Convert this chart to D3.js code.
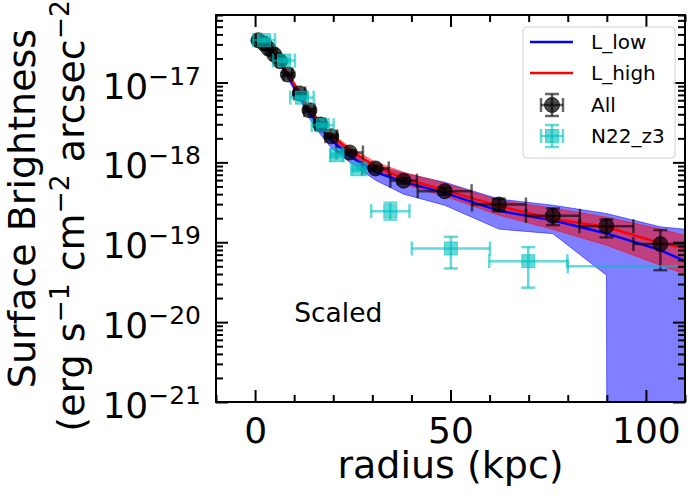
<!DOCTYPE html>
<html><head><meta charset="utf-8">
<script src="https://cdn.jsdelivr.net/npm/d3@7"></script>
<style>
body{margin:0;background:#fff}
svg{display:block}
text{font-family:"DejaVu Sans",sans-serif;fill:#000}
</style>
</head><body>
<svg id="c" width="700" height="500"></svg>
<script>
// ---------------- data ----------------
const xDomain = [-10, 110];
const yDomain = [1e-21, 7e-17];
const xTickVals = [0, 50, 100];
const yTickVals = [1e-21, 1e-20, 1e-19, 1e-18, 1e-17];
const yTickExps = ["−21", "−20", "−19", "−18", "−17"];

// "All" stacked profile
const allR    = [0.85, 2.3, 3.4, 4.9, 6.4, 8.4, 11.4, 13.9, 16.7, 19.5, 24.2, 30.8, 38.0, 48.5, 62.4, 76.2, 89.9, 103.7];
const allV    = [3.38e-17, 3.07e-17, 2.66e-17, 2.24e-17, 1.85e-17, 1.26e-17, 7.3e-18, 4.5e-18, 2.98e-18, 2.12e-18, 1.33e-18, 8.4e-19, 5.9e-19, 4.36e-19, 2.97e-19, 2.14e-19, 1.59e-19, 9.5e-20];
const allXErr = [0.7, 0.7, 0.7, 0.7, 0.8, 1.1, 1.4, 1.3, 1.3, 1.5, 3.4, 3.4, 3.4, 6.9, 6.9, 6.9, 6.9, 6.9];
const allYLo  = [3.25e-17, 2.95e-17, 2.56e-17, 2.15e-17, 1.77e-17, 1.2e-17, 6.95e-18, 4.28e-18, 2.83e-18, 2.01e-18, 1.25e-18, 7.8e-19, 5.45e-19, 3.95e-19, 2.45e-19, 1.64e-19, 1.15e-19, 4.47e-20];
const allYHi  = [3.52e-17, 3.19e-17, 2.77e-17, 2.33e-17, 1.93e-17, 1.32e-17, 7.65e-18, 4.72e-18, 3.13e-18, 2.23e-18, 1.41e-18, 9.0e-19, 6.35e-19, 4.8e-19, 3.5e-19, 2.65e-19, 1.93e-19, 1.42e-19];

// N22_z3 profile
const n22R    = [2.3, 7.4, 12.0, 17.3, 20.9, 26.5, 34.6, 50.1, 69.9, 120];
const n22V    = [3.39e-17, 1.88e-17, 6.46e-18, 2.92e-18, 1.23e-18, 8.2e-19, 2.45e-19, 8.35e-20, 5.8e-20, 5.0e-20];
const n22XErr = [2.8, 2.8, 3.0, 2.8, 1.7, 1.9, 4.9, 10, 10, 40];
const n22YLo  = [3.22e-17, 1.79e-17, 6.14e-18, 2.77e-18, 1.17e-18, 7.8e-19, 1.92e-19, 4.7e-20, 2.7e-20, 3.5e-20];
const n22YHi  = [3.56e-17, 1.97e-17, 6.78e-18, 3.07e-18, 1.29e-18, 8.6e-19, 3.13e-19, 1.17e-19, 8.7e-20, 6.5e-20];

// model curves
const modelR  = [0.85, 2.3, 3.4, 4.9, 6.4, 8.4, 11.4, 13.9, 16.7, 19.5, 24.2, 30.8, 38.0, 48.5, 62.4, 76.2, 89.9, 103.7, 117.5];
const lowMid  = [3.38e-17, 3.06e-17, 2.62e-17, 2.19e-17, 1.77e-17, 1.20e-17, 6.93e-18, 4.13e-18, 2.68e-18, 1.90e-18, 1.20e-18, 7.54e-19, 5.70e-19, 4.15e-19, 2.47e-19, 1.89e-19, 1.29e-19, 7.96e-20, 3.99e-20];
const lowUp   = [3.58e-17, 3.24e-17, 2.78e-17, 2.33e-17, 1.88e-17, 1.27e-17, 7.35e-18, 4.44e-18, 2.88e-18, 2.04e-18, 1.38e-18, 9.23e-19, 7.33e-19, 5.65e-19, 3.47e-19, 2.91e-19, 2.29e-19, 1.56e-19, 1.34e-19];
const lowDn   = [3.19e-17, 2.89e-17, 2.47e-17, 2.04e-17, 1.65e-17, 1.10e-17, 6.18e-18, 3.57e-18, 2.25e-18, 1.51e-18, 1.006e-18, 5.99e-19, 4.0e-19, 2.91e-19, 1.46e-19, 1.28e-19, 3.87e-20, 0, 0];
const highMid = [3.38e-17, 3.08e-17, 2.66e-17, 2.24e-17, 1.85e-17, 1.27e-17, 7.45e-18, 4.63e-18, 3.10e-18, 2.19e-18, 1.42e-18, 8.96e-19, 6.29e-19, 4.49e-19, 2.83e-19, 1.95e-19, 1.55e-19, 9.75e-20, 7.2e-20];
const highUp  = [3.58e-17, 3.25e-17, 2.82e-17, 2.37e-17, 1.96e-17, 1.35e-17, 7.89e-18, 4.91e-18, 3.28e-18, 2.32e-18, 1.55e-18, 1.006e-18, 7.54e-19, 5.49e-19, 3.36e-19, 2.67e-19, 2.06e-19, 1.46e-19, 9.75e-20];
const highDn  = [3.19e-17, 2.90e-17, 2.52e-17, 2.11e-17, 1.74e-17, 1.20e-17, 6.93e-18, 4.31e-18, 2.84e-18, 1.98e-18, 1.27e-18, 7.76e-19, 5.33e-19, 3.78e-19, 2.18e-19, 1.45e-19, 9.2e-20, 5.17e-20, 2.9e-20];

const legendLabels = ["L_low", "L_high", "All", "N22_z3"];
const annotation = {text: "Scaled", r: 10, v: 1e-20};

// ---------------- drawing ----------------
const svg = d3.select("#c");
const L = 216, R = 685, T = 15, B = 402;
const x = d3.scaleLinear().domain(xDomain).range([L, R]);
const y = d3.scaleLog().domain(yDomain).range([B, T]);
const pos = v => Math.max(v, 1e-300);   // log-scale clipping of non-positive values

svg.append("defs").append("clipPath").attr("id", "clip")
  .append("rect").attr("x", L).attr("y", T).attr("width", R - L).attr("height", B - T);

const plot = svg.append("g").attr("clip-path", "url(#clip)");

function band(up, dn, color, op) {
  const area = d3.area()
    .x((d, i) => x(modelR[i]))
    .y0((d, i) => y(pos(dn[i])))
    .y1((d, i) => y(pos(up[i])));
  plot.append("path").datum(modelR).attr("d", area)
    .attr("fill", color).attr("fill-opacity", op)
    .attr("stroke", color).attr("stroke-opacity", op).attr("stroke-width", 1);
}
band(lowUp, lowDn, "#0000ff", 0.5);
band(highUp, highDn, "#ff0000", 0.5);

function curve(vals, color) {
  const line = d3.line().x((d, i) => x(modelR[i])).y((d, i) => y(pos(vals[i])));
  plot.append("path").datum(modelR).attr("d", line)
    .attr("fill", "none").attr("stroke", color).attr("stroke-width", 2.5);
}
curve(lowMid, "#0000ff");
curve(highMid, "#ff0000");

const CAP = 7;
function errorbars(rs, vs, xe, ylo, yhi, color, op, marker) {
  const g = plot.append("g").attr("stroke", color).attr("stroke-opacity", op).attr("stroke-width", 2.5);
  rs.forEach((r, i) => {
    const cx = x(r), cy = y(vs[i]);
    const x0 = x(r - xe[i]), x1 = x(r + xe[i]);
    const y0 = y(ylo[i]), y1 = y(yhi[i]);
    g.append("line").attr("x1", x0).attr("x2", x1).attr("y1", cy).attr("y2", cy);
    g.append("line").attr("x1", cx).attr("x2", cx).attr("y1", y0).attr("y2", y1);
    [x0, x1].forEach(xx => g.append("line").attr("x1", xx).attr("x2", xx).attr("y1", cy - CAP).attr("y2", cy + CAP));
    [y0, y1].forEach(yy => g.append("line").attr("x1", cx - CAP).attr("x2", cx + CAP).attr("y1", yy).attr("y2", yy));
  });
  const m = plot.append("g");
  rs.forEach((r, i) => marker(m, x(r), y(vs[i])));
}
function circleMarker(g, cx, cy) {
  g.append("circle").attr("cx", cx).attr("cy", cy).attr("r", 7.5)
    .attr("fill", "#000").attr("fill-opacity", 0.7)
    .attr("stroke", "#000").attr("stroke-opacity", 0.7).attr("stroke-width", 1);
}
function squareMarker(g, cx, cy) {
  g.append("rect").attr("x", cx - 6.5).attr("y", cy - 6.5).attr("width", 13).attr("height", 13)
    .attr("fill", "#00bfbf").attr("fill-opacity", 0.6)
    .attr("stroke", "#00bfbf").attr("stroke-opacity", 0.6).attr("stroke-width", 1);
}
errorbars(allR, allV, allXErr, allYLo, allYHi, "#000", 0.6, circleMarker);
errorbars(n22R, n22V, n22XErr, n22YLo, n22YHi, "#00bfbf", 0.6, squareMarker);

// annotation
svg.append("text").attr("x", x(annotation.r)).attr("y", y(annotation.v))
  .attr("font-size", 26.5).text(annotation.text);

// ---------------- axes ----------------
const majX = 12, minX = 7;
const xMinor = x.ticks(12).filter(t => !xTickVals.includes(t));
const yMinor = y.ticks().filter(t => !yTickVals.some(m => Math.abs(m - t) / m < 1e-6));

function styleAxis(g) {
  g.select(".domain").remove();
  g.selectAll(".tick line").attr("stroke", "#000").attr("stroke-width", 2);
}
// bottom
svg.append("g").attr("transform", `translate(0,${B})`)
  .call(d3.axisBottom(x).tickValues(xTickVals).tickSizeInner(-majX).tickSizeOuter(0).tickPadding(14).tickFormat(d3.format("d")))
  .call(styleAxis)
  .call(g => g.selectAll(".tick text").attr("font-size", 36).attr("font-family", "DejaVu Sans").attr("dy", "0.74em"));
svg.append("g").attr("transform", `translate(0,${B})`)
  .call(d3.axisBottom(x).tickValues(xMinor).tickSizeInner(-minX).tickSizeOuter(0).tickFormat(""))
  .call(styleAxis);
// top
svg.append("g").attr("transform", `translate(0,${T})`)
  .call(d3.axisTop(x).tickValues(xTickVals).tickSizeInner(-majX).tickSizeOuter(0).tickFormat(""))
  .call(styleAxis);
svg.append("g").attr("transform", `translate(0,${T})`)
  .call(d3.axisTop(x).tickValues(xMinor).tickSizeInner(-minX).tickSizeOuter(0).tickFormat(""))
  .call(styleAxis);
// left
svg.append("g").attr("transform", `translate(${L},0)`)
  .call(d3.axisLeft(y).tickValues(yTickVals).tickSizeInner(-majX).tickSizeOuter(0).tickFormat(""))
  .call(styleAxis);
svg.append("g").attr("transform", `translate(${L},0)`)
  .call(d3.axisLeft(y).tickValues(yMinor).tickSizeInner(-minX).tickSizeOuter(0).tickFormat(""))
  .call(styleAxis);
// right
svg.append("g").attr("transform", `translate(${R},0)`)
  .call(d3.axisRight(y).tickValues(yTickVals).tickSizeInner(-majX).tickSizeOuter(0).tickFormat(""))
  .call(styleAxis);
svg.append("g").attr("transform", `translate(${R},0)`)
  .call(d3.axisRight(y).tickValues(yMinor).tickSizeInner(-minX).tickSizeOuter(0).tickFormat(""))
  .call(styleAxis);

// y tick labels 10^{-n}
yTickVals.forEach((v, i) => {
  const t = svg.append("text").attr("x", 201).attr("y", y(v) + 16)
    .attr("text-anchor", "end").attr("font-size", 36);
  t.append("tspan").text("10");
  t.append("tspan").attr("dy", -14).attr("font-size", 25).text(yTickExps[i]);
});

// frame
svg.append("rect").attr("x", L).attr("y", T).attr("width", R - L).attr("height", B - T)
  .attr("fill", "none").attr("stroke", "#000").attr("stroke-width", 2);

// axis labels
svg.append("text").attr("x", (L + R) / 2).attr("y", 478).attr("text-anchor", "middle")
  .attr("font-size", 38).text("radius (kpc)");
const cy0 = (T + B) / 2;
svg.append("text").attr("transform", `translate(35,${cy0}) rotate(-90)`)
  .attr("text-anchor", "middle").attr("font-size", 38).text("Surface Brightness");
const yl2 = svg.append("text").attr("transform", `translate(84,${cy0}) rotate(-90)`)
  .attr("text-anchor", "middle").attr("font-size", 38);
[["(erg s", false], ["−1", true], [" cm", false], ["−2", true], [" arcsec", false], ["−2", true], [")", false]]
  .forEach(([s, sup], i, arr) => {
    const ts = yl2.append("tspan").text(s);
    if (sup) ts.attr("dy", -15).attr("font-size", 26.5);
    else if (i > 0 && arr[i - 1][1]) ts.attr("dy", 15);
  });

// ---------------- legend ----------------
const lg = svg.append("g");
lg.append("rect").attr("x", 523).attr("y", 27).attr("width", 152).attr("height", 131).attr("rx", 4)
  .attr("fill", "#fff").attr("fill-opacity", 0.8).attr("stroke", "#d0d0d0").attr("stroke-width", 1);
const rows = [42, 73, 105, 136];
[["#0000ff"], ["#ff0000"]].forEach(([c], i) => {
  lg.append("line").attr("x1", 530).attr("x2", 573).attr("y1", rows[i]).attr("y2", rows[i])
    .attr("stroke", c).attr("stroke-width", 2.5);
});
function legendErr(cy, color, marker) {
  const g = lg.append("g").attr("stroke", color).attr("stroke-opacity", 0.6).attr("stroke-width", 2.5);
  const cx = 552, h = 11;
  g.append("line").attr("x1", cx - h).attr("x2", cx + h).attr("y1", cy).attr("y2", cy);
  g.append("line").attr("x1", cx).attr("x2", cx).attr("y1", cy - h).attr("y2", cy + h);
  [cx - h, cx + h].forEach(xx => g.append("line").attr("x1", xx).attr("x2", xx).attr("y1", cy - CAP).attr("y2", cy + CAP));
  [cy - h, cy + h].forEach(yy => g.append("line").attr("x1", cx - CAP).attr("x2", cx + CAP).attr("y1", yy).attr("y2", yy));
  marker(lg, cx, cy);
}
legendErr(rows[2], "#000", circleMarker);
legendErr(rows[3], "#00bfbf", squareMarker);
legendLabels.forEach((s, i) => {
  lg.append("text").attr("x", 591).attr("y", rows[i] + 7).attr("font-size", 20).text(s);
});
</script>
</body></html>
